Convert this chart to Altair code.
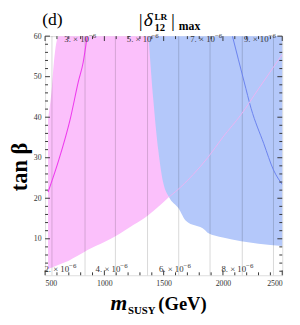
import altair as alt
import pandas as pd

# ---------------- data ----------------
# pink allowed region: x (GeV), lower and upper tan(beta)
pink_x = [525, 558, 574, 615, 700, 763, 862, 1000, 1093, 1250, 1356, 1450, 1545]
pink_lo = [2.5, 2.9, 3.1, 3.6, 4.6, 5.6, 7.3, 9.2, 10.6, 13.5, 15.5, 17.8, 20.3]
pink_hi = [39.5, 47.5, 53.5, 60, 60, 60, 60, 60, 60, 60, 60, 60, 60]

# blue allowed region: x (GeV), lower tan(beta) (upper = 60)
blue_x = [1372, 1414, 1455, 1496, 1545, 1628, 1685, 1850, 1874, 2000, 2154, 2300, 2500]
blue_lo = [60, 43.9, 31.8, 23.9, 20.3, 17.4, 14.5, 12.1, 11.4, 10.3, 9.4, 8.8, 8.2]

# contour curves
mag_x = [525, 615, 714, 780, 821, 855]
mag_y = [21.5, 29.4, 39.8, 48.7, 53.5, 60]
bline_x = [2080, 2179, 2237, 2344, 2426, 2500]
bline_y = [60, 48.7, 42.2, 33.5, 27, 23.4]
pline_x = [1545, 1603, 1750, 1874, 2000, 2154, 2300, 2500]
pline_y = [20.3, 21.7, 25.9, 30.1, 35.1, 40.7, 47.0, 55.5]

# vertical contour lines of |delta| (x 10^-6)
vline_val = [2, 3, 4, 5, 6, 7, 8, 9]
vline_x = [558, 837, 1093, 1364, 1627, 1891, 2163, 2426]

# contour labels
lab_main = ["2. × 10", "3. × 10", "4. × 10", "5. × 10",
            "6. × 10", "7. × 10", "8. × 10", "9. × 10"]
lab_exp = ["−6"] * 8
lab_x = [661, 829, 1093, 1356, 1627, 1891, 2154, 2344]
lab_y = [1.75, 58.6, 1.75, 58.6, 1.75, 58.6, 1.75, 58.6]

# ticks
x_major = [500, 1000, 1500, 2000, 2500]
x_minor = [v for v in range(600, 2500, 100) if v % 500 != 0]
y_major = [10, 20, 30, 40, 50, 60]
y_minor = [v for v in range(2, 60, 2) if v % 10 != 0]

W, H = 243, 245
SERIF = "Liberation Serif"

xs = alt.Scale(domain=[500, 2500], nice=False, zero=False)
ys = alt.Scale(domain=[1, 60], nice=False, zero=False)

AX = alt.Axis(values=x_major, ticks=False, domain=False, grid=False,
              labelFont=SERIF, labelFontSize=8, labelColor="#333",
              labelPadding=4, title=None, format="d")
AY = alt.Axis(values=y_major, ticks=False, domain=False, grid=False,
              labelFont=SERIF, labelFontSize=8, labelColor="#333",
              labelPadding=4, title=None, format="d")


def X(f):
    return alt.X(f, scale=xs, axis=AX)


def Y(f):
    return alt.Y(f, scale=ys, axis=AY)


pink_df = pd.DataFrame({"x": pink_x, "lo": pink_lo, "hi": pink_hi})
blue_df = pd.DataFrame({"x": blue_x, "lo": blue_lo, "hi": [60] * len(blue_x)})

pink = alt.Chart(pink_df).mark_area(color="#fbc0fb", interpolate="monotone", opacity=1).encode(
    x=X("x:Q"), y=Y("lo:Q"), y2="hi:Q")
blue = alt.Chart(blue_df).mark_area(color="#b4c8fa", interpolate="monotone", opacity=1).encode(
    x=X("x:Q"), y=Y("lo:Q"), y2="hi:Q")

vl_df = pd.DataFrame({"x": vline_x, "v": vline_val})
vlines = alt.Chart(vl_df).mark_rule(color="black", opacity=0.16, strokeWidth=1).encode(
    x=X("x:Q"))


def curve(xv, yv, color, width=1.0):
    df = pd.DataFrame({"x": xv, "y": yv})
    return alt.Chart(df).mark_line(color=color, strokeWidth=width, interpolate="monotone",
                                   clip=True).encode(x=X("x:Q"), y=Y("y:Q"))


mag = curve(mag_x, mag_y, "#ee3cee", 1.1)
bl = curve(bline_x, bline_y, "#6a82ee", 1.0)
pl = curve(pline_x, pline_y, "#eab4f2", 1.0)

lab_df = pd.DataFrame({"x": lab_x, "y": lab_y, "t": lab_main, "e": lab_exp})
labels_main = alt.Chart(lab_df).mark_text(font=SERIF, fontSize=9, color="#333",
                                          baseline="alphabetic", align="right", dx=5).encode(
    x=X("x:Q"), y=Y("y:Q"), text="t:N")
labels_exp = alt.Chart(lab_df).mark_text(font=SERIF, fontSize=7, color="#333",
                                         baseline="alphabetic", align="left", dx=5, dy=-4).encode(
    x=X("x:Q"), y=Y("y:Q"), text="e:N")


def xticks(vals, length):
    df = pd.DataFrame({"x": vals})
    bot = alt.Chart(df).mark_rule(color="#333", strokeWidth=1).encode(
        x=X("x:Q"), y=alt.value(H), y2=alt.value(H - length))
    top = alt.Chart(df).mark_rule(color="#333", strokeWidth=1).encode(
        x=X("x:Q"), y=alt.value(0), y2=alt.value(length))
    return [bot, top]


def yticks(vals, length):
    df = pd.DataFrame({"y": vals})
    lft = alt.Chart(df).mark_rule(color="#333", strokeWidth=1).encode(
        y=Y("y:Q"), x=alt.value(0), x2=alt.value(length))
    rgt = alt.Chart(df).mark_rule(color="#333", strokeWidth=1).encode(
        y=Y("y:Q"), x=alt.value(W), x2=alt.value(W - length))
    return [lft, rgt]


ticks = xticks(x_major, 5) + xticks(x_minor, 3) + yticks(y_major, 5) + yticks(y_minor, 3)


def txt(s, x, y, size, weight="normal", style="normal", align="left", angle=0,
        baseline="alphabetic"):
    return alt.Chart(pd.DataFrame({"t": [s]})).mark_text(
        font=SERIF, fontSize=size, fontWeight=weight, fontStyle=style, align=align,
        baseline=baseline, angle=angle, color="black", clip=False,
    ).encode(x=alt.value(x), y=alt.value(y), text="t:N")


titles = [
    txt("(d)", -3, -11, 18),
    txt("|", 96, -9, 20),
    txt("δ", 101, -10, 20, style="italic"),
    txt("LR", 112, -17, 9.5, weight="bold"),
    txt("12", 112, -5, 11, weight="bold"),
    txt("|", 129, -9, 20),
    txt("max", 137, -6, 12, weight="bold"),
    txt("m", 67, 281, 22, weight="bold", style="italic"),
    txt("SUSY", 85, 285, 11, weight="bold"),
    txt("(GeV)", 116, 281, 19, weight="bold"),
    txt("tan β", -26, 134, 23, weight="bold", align="center", angle=270, baseline="middle"),
]

chart = alt.layer(pink, blue, vlines, mag, bl, pl, labels_main, labels_exp,
                  *ticks, *titles).properties(
    width=W, height=H,
    autosize=alt.AutoSizeParams(type="none"),
    padding={"left": 38, "top": 25, "right": 10, "bottom": 42},
).configure_view(stroke="#333", strokeWidth=1).configure(background="white")

chart.save("out.html", embed_options={"renderer": "svg", "actions": False})
